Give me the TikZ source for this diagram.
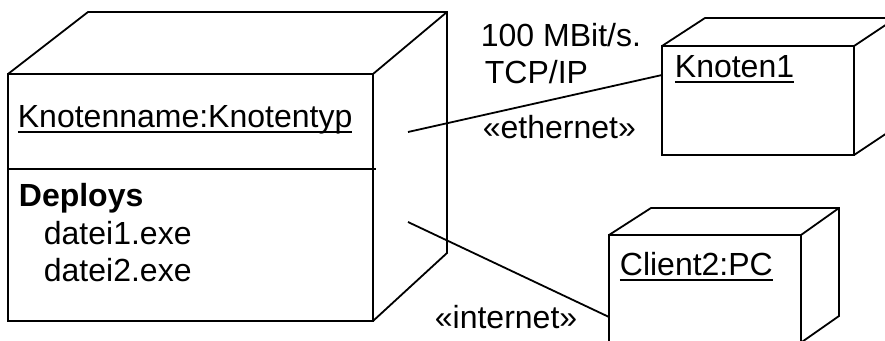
\documentclass[tikz,border=0pt]{standalone}
\usepackage{fontspec}
\setmainfont{Liberation Sans}
\usetikzlibrary{calc}
\newcommand\myul[1]{\setbox0\hbox{#1}\rlap{\rule[-5.5pt]{\wd0}{1.8pt}}\box0}
\tikzset{
  face/.style={draw, inner sep=0pt, outer sep=0pt, anchor=north west},
  lbl/.style={inner sep=0pt, anchor=base west, font=\fontsize{32}{38}\selectfont},
  conn/.style={draw, line width=1.8pt}
}
\begin{document}
\begin{tikzpicture}[x=1pt, y=-1pt, line width=1.8pt]
\useasboundingbox (0,0) rectangle (885,340);
\clip (0,0) rectangle (885,340);
% big node
\node[face, minimum width=365pt, minimum height=247pt] (big) at (8,74) {};
\draw (big.north west) -- ++(80,-62) -- ($(big.north east)+(74,-62)$) coordinate (bbtr)
      -- ($(big.south east)+(74,-68)$) -- (big.south east);
\draw (big.north east) -- (bbtr);
\draw ($(big.north west)+(0,95)$) -- ($(big.north east)+(3,95)$);
% Knoten1
\node[face, minimum width=192pt, minimum height=109pt] (kn) at (662,46) {};
\draw (kn.north west) -- ++(43,-28) -- ($(kn.north east)+(42,-28)$) coordinate (kbtr)
      -- ($(kn.south east)+(42,-28)$) -- (kn.south east);
\draw (kn.north east) -- (kbtr);
% Client2
\node[face, minimum width=192pt, minimum height=109pt] (cl) at (609,235) {};
\draw (cl.north west) -- ++(42,-27) -- ($(cl.north east)+(38,-27)$) coordinate (cbtr)
      -- ($(cl.north east)+(38,81)$) -- ++(-40,28);
\draw (cl.north east) -- (cbtr);
% labels
\node[lbl] (t1) at (17,127) {\myul{Knotenname:Knotentyp}};
\node[lbl] (t2) at (18,206) {\bfseries Deploys};
\node[lbl] (t3) at (43,244) {datei1.exe};
\node[lbl] (t4) at (43,281) {datei2.exe};
\node[lbl] (t5) at (480,46) {100 MBit/s.};
\node[lbl] (t6) at (484,83) {TCP/IP};
\node[lbl] (t7) at (482,138) {«ethernet»};
\node[lbl] (t8) at (674,77) {\myul{Knoten1}};
\node[lbl] (t9) at (619,275) {\myul{Client2:PC}};
\node[lbl] (t10) at (434,328) {«internet»};
% connectors
\coordinate (s1) at (408,132);
\coordinate (s2) at (408,222);
\draw[conn] (s1) -- ($(kn.north west)+(0,29)$);
\draw[conn] (s2) -- ($(cl.north west)+(0,82)$);
\end{tikzpicture}
\end{document}
